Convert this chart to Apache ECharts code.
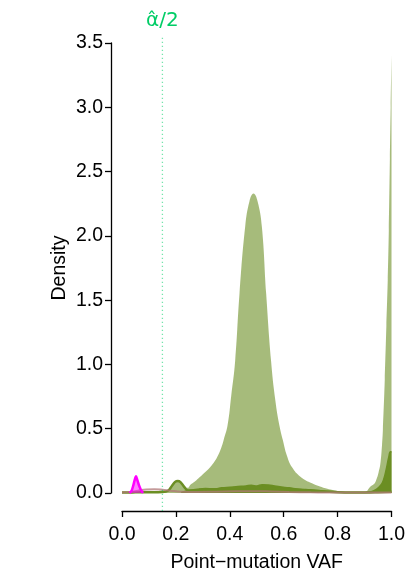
<!DOCTYPE html>
<html><head><meta charset="utf-8">
<script src="https://cdn.jsdelivr.net/npm/echarts@6/dist/echarts.min.js"></script>
<style>html,body{margin:0;padding:0;background:#fff}#c{width:405px;height:569px}</style>
</head><body><div id="c"></div>
<script>
// ---- data ----
const alphaHalf = 0.15;
const alphaLineY = [-0.14, 3.55];
const alphaLabel = 'α\u0302/2';

const lightX = [0, 0.05, 0.10, 0.15, 0.175, 0.19, 0.2, 0.207, 0.215, 0.225, 0.235, 0.245, 0.253, 0.268, 0.284, 0.305, 0.327, 0.345, 0.358, 0.368, 0.377, 0.392, 0.405, 0.42, 0.436, 0.457, 0.473, 0.488, 0.503, 0.519, 0.535, 0.553, 0.569, 0.585, 0.597, 0.612, 0.631, 0.662, 0.705, 0.755, 0.80, 0.83, 0.87, 0.90, 0.922, 0.935, 0.943, 0.952, 0.959, 0.965, 0.968, 0.975, 0.981, 0.986, 0.990, 0.994, 0.997, 1.0];
const lightY = [0.01, 0.012, 0.015, 0.018, 0.03, 0.06, 0.08, 0.09, 0.085, 0.065, 0.045, 0.04, 0.062, 0.085, 0.114, 0.155, 0.20, 0.25, 0.30, 0.35, 0.41, 0.53, 0.75, 1.03, 1.55, 2.07, 2.27, 2.33, 2.27, 2.07, 1.55, 1.03, 0.72, 0.515, 0.41, 0.29, 0.20, 0.127, 0.075, 0.036, 0.015, 0.008, 0.005, 0.006, 0.05, 0.07, 0.10, 0.16, 0.233, 0.38, 0.49, 0.88, 1.3, 1.65, 2.04, 2.6, 3.0, 3.40];

const bandX = [0.22, 0.25, 0.28, 0.31, 0.34, 0.37, 0.40, 0.43, 0.46, 0.48, 0.50, 0.52, 0.55, 0.58, 0.62, 0.66, 0.70, 0.75, 0.80, 0.85, 0.90, 0.925, 0.945, 0.96, 0.97, 0.98, 0.99, 0.996, 1.0];
const bandY = [0.005, 0.02, 0.03, 0.035, 0.03, 0.04, 0.045, 0.05, 0.055, 0.06, 0.055, 0.065, 0.06, 0.05, 0.04, 0.03, 0.025, 0.015, 0.008, 0.004, 0.004, 0.01, 0.03, 0.06, 0.10, 0.18, 0.28, 0.32, 0.32];

const bumpX = [0, 0.05, 0.10, 0.15, 0.172, 0.185, 0.197, 0.207, 0.217, 0.23, 0.246, 0.27, 0.30, 0.33, 0.36, 0.40, 0.44, 0.48, 0.52, 0.56, 0.60, 0.65, 0.70, 0.75, 0.80, 0.85, 0.90, 0.95, 1.0];
const bumpY = [0.004, 0.005, 0.006, 0.008, 0.02, 0.055, 0.085, 0.093, 0.085, 0.05, 0.02, 0.02, 0.025, 0.03, 0.028, 0.035, 0.04, 0.045, 0.04, 0.035, 0.03, 0.025, 0.018, 0.012, 0.006, 0.004, 0.004, 0.006, 0.01];

const brownX = [0, 0.03, 0.06, 0.09, 0.12, 0.15, 0.18, 0.22, 0.28, 0.35, 0.42, 0.48, 0.55, 0.62, 0.70, 0.80, 0.90, 1.0];
const brownY = [0.004, 0.008, 0.018, 0.028, 0.03, 0.026, 0.018, 0.01, 0.008, 0.01, 0.013, 0.014, 0.012, 0.008, 0.005, 0.003, 0.003, 0.004];

const magX = [0.028, 0.036, 0.042, 0.047, 0.052, 0.057, 0.063, 0.070, 0.078];
const magY = [0.0, 0.02, 0.06, 0.10, 0.13, 0.10, 0.06, 0.025, 0.0];

const xTicks = ['0.0', '0.2', '0.4', '0.6', '0.8', '1.0'];
const yTicks = ['0.0', '0.5', '1.0', '1.5', '2.0', '2.5', '3.0', '3.5'];
// ---------------------------------------

const zip = (xs, ys) => xs.map((x, i) => [x, ys[i]]);
const FONT = 'Liberation Sans, Arial, Helvetica, sans-serif';
const chart = echarts.init(document.getElementById('c'), null, {renderer: 'canvas'});

chart.setOption({
  animation: false,
  backgroundColor: '#ffffff',
  grid: {left: 122, right: 13.5, top: 43, bottom: 76, containLabel: false, outerBoundsMode: 'none'},
  xAxis: {
    type: 'value', min: 0, max: 1, interval: 0.2, offset: 18,
    axisLine: {show: true, onZero: false, lineStyle: {color: '#000', width: 1.3}},
    axisTick: {show: true, length: 6, lineStyle: {color: '#000', width: 1.3}},
    axisLabel: {fontSize: 19.5, color: '#000', margin: 14, fontFamily: FONT,
      showMinLabel: true, showMaxLabel: true,
      formatter: v => xTicks[Math.round(v / 0.2)]},
    splitLine: {show: false},
    name: 'Point\u2212mutation VAF', nameLocation: 'middle', nameGap: 42, nameMoveOverlap: false,
    nameTextStyle: {fontSize: 19.5, color: '#000', fontFamily: FONT}
  },
  yAxis: {
    type: 'value', min: 0, max: 3.5, interval: 0.5, offset: 11,
    axisLine: {show: true, onZero: false, lineStyle: {color: '#000', width: 1.3}},
    axisTick: {show: true, length: 6, lineStyle: {color: '#000', width: 1.3}},
    axisLabel: {fontSize: 19.5, color: '#000', margin: 8, fontFamily: FONT,
      showMinLabel: true, showMaxLabel: true,
      formatter: v => yTicks[Math.round(v / 0.5)]},
    splitLine: {show: false},
    name: 'Density', nameLocation: 'middle', nameGap: 41, nameRotate: 90, nameMoveOverlap: false,
    nameTextStyle: {fontSize: 19.5, color: '#000', fontFamily: FONT}
  },
  series: [
    {type: 'line', name: 'light', data: zip(lightX, lightY), showSymbol: false,
      smooth: 0.45,
      lineStyle: {width: 0, color: 'rgba(107,142,35,0.6)'},
      areaStyle: {color: 'rgba(107,142,35,0.6)', opacity: 1}, z: 2},
    {type: 'line', name: 'band', data: zip(bandX, bandY), showSymbol: false,
      smooth: 0.45,
      lineStyle: {width: 1.5, color: '#6b8e23'},
      areaStyle: {color: '#6b8e23', opacity: 1}, z: 3},
    {type: 'line', name: 'bump', data: zip(bumpX, bumpY), showSymbol: false,
      smooth: 0.45,
      lineStyle: {width: 2.5, color: '#6b8e23'}, z: 4},
    {type: 'line', name: 'brown', data: zip(brownX, brownY), showSymbol: false,
      smooth: 0.45,
      lineStyle: {width: 2, color: 'rgba(176,120,120,0.75)'}, z: 5},
    {type: 'line', name: 'mag', data: zip(magX, magY), showSymbol: false,
      smooth: 0.3,
      lineStyle: {width: 2.5, color: '#ff00ff'},
      areaStyle: {color: 'rgba(255,0,255,0.5)', opacity: 1}, z: 6},
    {type: 'line', name: 'alpha', clip: false, showSymbol: true, symbol: 'circle', symbolSize: 0.1,
      data: [
        {value: [alphaHalf, alphaLineY[0]]},
        {value: [alphaHalf, alphaLineY[1]], label: {show: true, position: 'top', distance: 6,
          formatter: alphaLabel, fontSize: 20, color: '#00cd66', fontFamily: 'DejaVu Sans'}}
      ],
      lineStyle: {width: 1.3, type: [1.3, 2.7], color: 'rgba(0,205,102,0.55)'},
      itemStyle: {color: 'rgba(0,0,0,0)'}, z: 7}
  ]
});
</script></body></html>
